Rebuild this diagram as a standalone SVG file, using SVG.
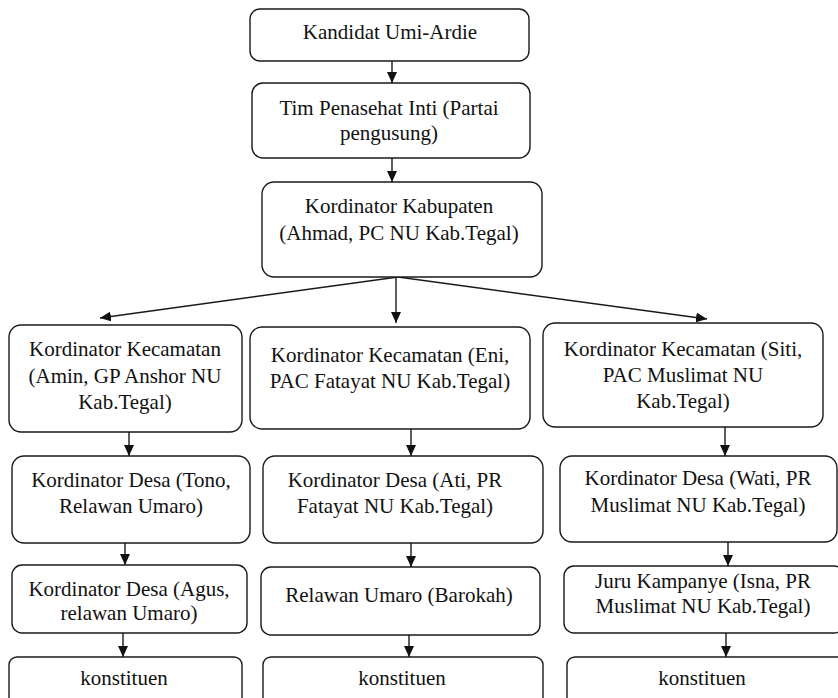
<svg xmlns="http://www.w3.org/2000/svg" width="838" height="698" viewBox="0 0 838 698">
<style>
.box{fill:#fff;stroke:#1a1a1a;stroke-width:1.4}
.t{font-size:21px;fill:#111;text-anchor:middle}
.c{fill:none;stroke:#1a1a1a;stroke-width:1.4}
</style>
<defs>
<marker id="ah" markerUnits="userSpaceOnUse" markerWidth="11" markerHeight="10" refX="11" refY="5" orient="auto">
<path d="M0,0 L11,5 L0,10 z" fill="#111"/>
</marker>
</defs>
<rect width="838" height="698" fill="#fff"/>
<g id="connectors">
<line class="c" x1="392" y1="61" x2="392" y2="83" marker-end="url(#ah)"/>
<line class="c" x1="392" y1="158" x2="392" y2="182" marker-end="url(#ah)"/>
<line class="c" x1="398" y1="277" x2="100" y2="318" marker-end="url(#ah)"/>
<line class="c" x1="396" y1="277" x2="396" y2="323" marker-end="url(#ah)"/>
<line class="c" x1="398" y1="277" x2="707" y2="319" marker-end="url(#ah)"/>
<line class="c" x1="129" y1="432" x2="129" y2="456" marker-end="url(#ah)"/>
<line class="c" x1="411" y1="429" x2="411" y2="456" marker-end="url(#ah)"/>
<line class="c" x1="725" y1="427" x2="725" y2="456" marker-end="url(#ah)"/>
<line class="c" x1="125" y1="543" x2="125" y2="565" marker-end="url(#ah)"/>
<line class="c" x1="411" y1="543" x2="411" y2="567" marker-end="url(#ah)"/>
<line class="c" x1="728" y1="542" x2="728" y2="566" marker-end="url(#ah)"/>
<line class="c" x1="123" y1="633" x2="123" y2="657" marker-end="url(#ah)"/>
<line class="c" x1="409" y1="635" x2="409" y2="657" marker-end="url(#ah)"/>
<line class="c" x1="726" y1="633" x2="726" y2="657" marker-end="url(#ah)"/>
</g>
<g font-family="Liberation Serif, Times New Roman, serif">
<g id="n1"><rect class="box" x="250" y="9" width="279" height="52" rx="10"/><text class="t" x="390" y="39">Kandidat Umi-Ardie</text></g>
<g id="n2"><rect class="box" x="252" y="83" width="278" height="75" rx="11"/><text class="t" x="389" y="115">Tim Penasehat Inti (Partai</text><text class="t" x="389" y="140">pengusung)</text></g>
<g id="n3"><rect class="box" x="262" y="182" width="280" height="95" rx="12"/><text class="t" x="399" y="213">Kordinator Kabupaten</text><text class="t" x="399" y="240">(Ahmad, PC NU Kab.Tegal)</text></g>
<g id="kecL"><rect class="box" x="9" y="325" width="233" height="107" rx="12"/><text class="t" x="125" y="356">Kordinator Kecamatan</text><text class="t" x="125" y="383">(Amin, GP Anshor NU</text><text class="t" x="125" y="409">Kab.Tegal)</text></g>
<g id="kecM"><rect class="box" x="250" y="327" width="280" height="102" rx="12"/><text class="t" x="390" y="362">Kordinator Kecamatan (Eni,</text><text class="t" x="390" y="388">PAC Fatayat NU Kab.Tegal)</text></g>
<g id="kecR"><rect class="box" x="543" y="323" width="280" height="104" rx="12"/><text class="t" x="683" y="356">Kordinator Kecamatan (Siti,</text><text class="t" x="683" y="382">PAC Muslimat NU</text><text class="t" x="683" y="408">Kab.Tegal)</text></g>
<g id="desaL"><rect class="box" x="12" y="456" width="238" height="87" rx="12"/><text class="t" x="131" y="487">Kordinator Desa (Tono,</text><text class="t" x="131" y="513">Relawan Umaro)</text></g>
<g id="desaM"><rect class="box" x="263" y="456" width="280" height="87" rx="12"/><text class="t" x="395" y="487">Kordinator Desa (Ati, PR</text><text class="t" x="395" y="513">Fatayat NU Kab.Tegal)</text></g>
<g id="desaR"><rect class="box" x="560" y="456" width="277" height="86" rx="12"/><text class="t" x="698" y="485">Kordinator Desa (Wati, PR</text><text class="t" x="698" y="512">Muslimat NU Kab.Tegal)</text></g>
<g id="l3L"><rect class="box" x="12" y="565" width="235" height="68" rx="10"/><text class="t" x="129" y="596">Kordinator Desa (Agus,</text><text class="t" x="129" y="620">relawan Umaro)</text></g>
<g id="l3M"><rect class="box" x="261" y="567" width="279" height="68" rx="10"/><text class="t" x="399" y="602">Relawan Umaro (Barokah)</text></g>
<g id="l3R"><rect class="box" x="564" y="566" width="280" height="67" rx="10"/><text class="t" x="703" y="588">Juru Kampanye (Isna, PR</text><text class="t" x="703" y="613">Muslimat NU Kab.Tegal)</text></g>
<g id="kL"><rect class="box" x="9" y="657" width="233" height="50" rx="8"/><text class="t" x="124" y="685">konstituen</text></g>
<g id="kM"><rect class="box" x="263" y="657" width="280" height="50" rx="8"/><text class="t" x="402" y="685">konstituen</text></g>
<g id="kR"><rect class="box" x="567" y="657" width="280" height="50" rx="8"/><text class="t" x="702" y="685">konstituen</text></g>
</g>
</svg>
